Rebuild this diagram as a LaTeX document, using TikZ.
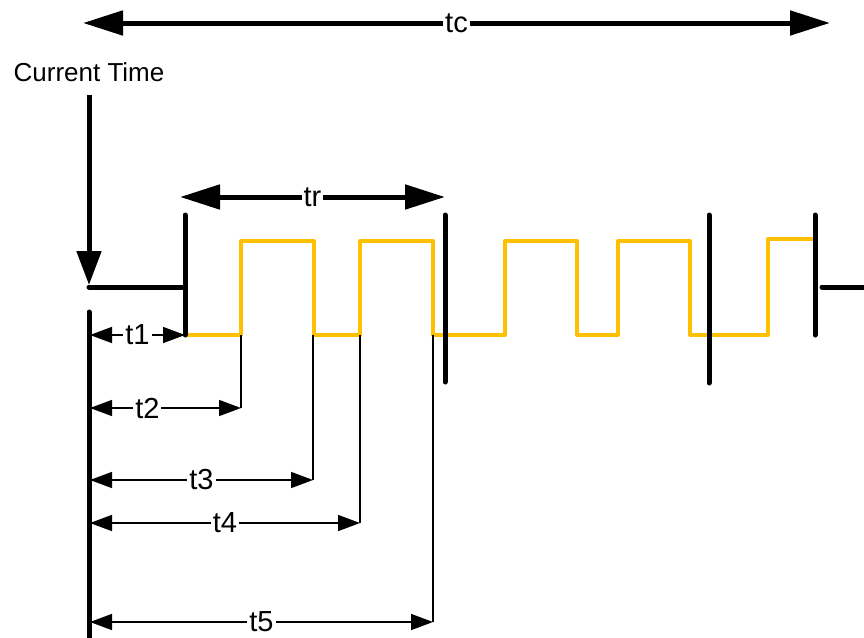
\documentclass[tikz,border=0pt]{standalone}
\usepackage{fontspec}
\setmainfont{Liberation Sans}
\usetikzlibrary{arrows.meta}
\definecolor{sigyellow}{HTML}{FFC000}

\begin{document}
\begin{tikzpicture}[x=1pt, y=-1pt,
    bar/.style={line width=5pt, line cap=round},
    sig/.style={line width=4pt, sigyellow, line join=round, line cap=round},
    bigdim/.style={line width=5pt, line cap=round,
        {Triangle[length=40pt,width=24pt]}-{Triangle[length=40pt,width=24pt]}},
    dim/.style={line width=1.5pt,
        {Triangle[length=22pt,width=16pt]}-{Triangle[length=22pt,width=16pt]}},
    ext/.style={line width=1.5pt},
    lbl/.style={fill=white, inner xsep=2pt, inner ysep=0pt, font=\fontsize{29}{32}\selectfont}]
    \useasboundingbox (0,0) rectangle (864,637);

    % Bezugspunkte
    \coordinate (now) at (89,95);
    \coordinate (nowend) at (89,285);
    \coordinate (base) at (89,312);
    \coordinate (baseend) at (89,642);

    % Gesamtdauer tc
    \coordinate (tcl) at (83,23);
    \coordinate (tcr) at (830,23);
    \draw[bigdim] (tcl) -- (tcr) node[lbl, midway] (tc) {tc};

    % Aktuelle Zeit
    \node[font=\fontsize{26}{30}\selectfont] (cur) at (89,72) {Current Time};
    \draw[line width=5pt, -{Triangle[length=34pt,width=24pt]}] (now) -- (nowend);
    \draw[bar] (89,287) -- (185,287);
    \draw[bar] (822,287) -- (870,287);

    % Signal (gelb)
    \draw[sig] (185,335) -- (241,335) -- (241,241) -- (314,241) -- (314,335)
        -- (360,335) -- (360,241) -- (433,241) -- (433,335) -- (505,335)
        -- (505,241) -- (577,241) -- (577,335) -- (618,335) -- (618,241)
        -- (690,241) -- (690,335) -- (768,335) -- (768,239) -- (815,239);

    % Wiederholungsmarken
    \draw[bar] (185,215) -- (185,335);
    \draw[bar] (445,215) -- (445,382);
    \draw[bar] (709,215) -- (709,383);
    \draw[bar] (815,215) -- (815,335);

    % Wiederholdauer tr
    \coordinate (trl) at (180,197);
    \coordinate (trr) at (445,197);
    \draw[bigdim] (trl) -- (trr) node[lbl, midway] (tr) {tr};

    % Zeitachse links
    \draw[bar] (base) -- (baseend);

    % Hilfslinien an den Flanken
    \draw[ext] (241,335) -- (241,408);
    \draw[ext] (313,335) -- (313,480);
    \draw[ext] (360,335) -- (360,523);
    \draw[ext] (433,335) -- (433,622);

    % Abstaende t1 ... t5
    \draw[dim] (90,335) -- (185,335) node[lbl, midway] (t1) {t1};
    \draw[dim] (90,408) -- (241,408) node[lbl, pos=0.38] (t2) {t2};
    \draw[dim] (90,480) -- (313,480) node[lbl, midway] (t3) {t3};
    \draw[dim] (90,523) -- (360,523) node[lbl, midway] (t4) {t4};
    \draw[dim] (90,622) -- (433,622) node[lbl, midway] (t5) {t5};
\end{tikzpicture}
\end{document}
